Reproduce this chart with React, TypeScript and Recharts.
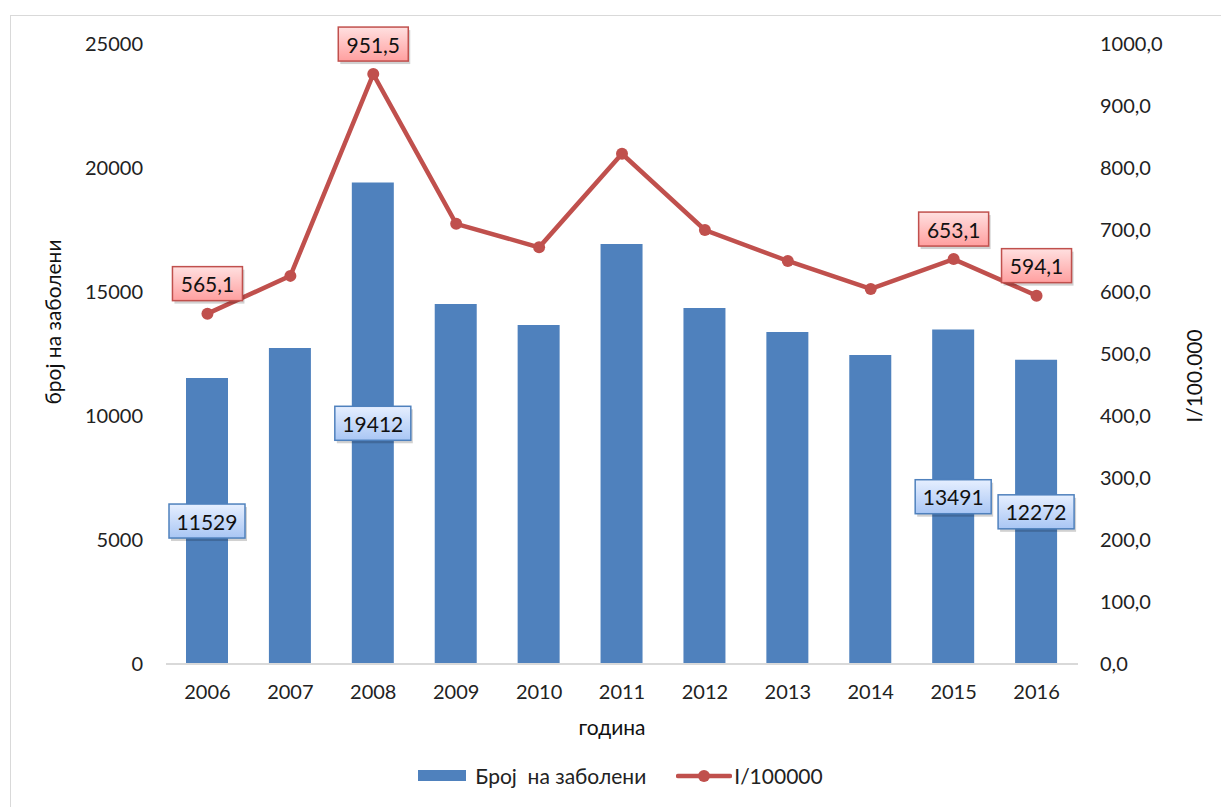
import React from "react";
import {
  ComposedChart,
  Bar,
  Line,
  XAxis,
  YAxis,
  LabelList,
} from "recharts";

const years = ["2006", "2007", "2008", "2009", "2010", "2011", "2012", "2013", "2014", "2015", "2016"];
const cases = [11529, 12742, 19412, 14516, 13669, 16935, 14355, 13387, 12460, 13491, 12272];
const rate = [565.1, 626.0, 951.5, 710.0, 672.0, 823.0, 700.0, 650.0, 605.0, 653.1, 594.1];
const labeledYears = ["2006", "2008", "2015", "2016"];
const leftTicks = [0, 5000, 10000, 15000, 20000, 25000];
const rightTicks = [0, 100, 200, 300, 400, 500, 600, 700, 800, 900, 1000];

const data = years.map((y, i) => ({ year: y, cases: cases[i], rate: rate[i] }));

const FONT = "Lato, 'Noto Sans', sans-serif";
const BLUE = "#4f81bd";
const RED = "#c0504d";

const fmtRate = (v: number) => v.toFixed(1).replace(".", ",");

function Box(props: any) {
  const { x, y, width, height, value, index, kind } = props;
  if (!labeledYears.includes(years[index])) return null;
  const text = kind === "bar" ? String(value) : fmtRate(Number(value));
  const cx = kind === "bar" ? x + width / 2 : x;
  const cy = kind === "bar" ? y + height / 2 : y - 30;
  const w = kind === "bar" ? 76 : 70;
  const h = 34;
  const grad = kind === "bar" ? "url(#gBlue)" : "url(#gRed)";
  const stroke = kind === "bar" ? BLUE : RED;
  return (
    <g>
      <rect x={cx - w / 2 + 2} y={cy - h / 2 + 3} width={w} height={h} fill="rgba(0,0,0,0.18)" />
      <rect x={cx - w / 2} y={cy - h / 2} width={w} height={h} fill={grad} stroke={stroke} strokeWidth={1.5} />
      <text
        x={cx}
        y={cy}
        textAnchor="middle"
        dominantBaseline="central"
        fontFamily={FONT}
        fontSize={21}
        fill="#111"
      >
        {text}
      </text>
    </g>
  );
}

function Legend() {
  return (
    <div
      style={{
        position: "absolute",
        top: 755,
        left: 0,
        width: 1221,
        display: "flex",
        justifyContent: "center",
        alignItems: "center",
        fontFamily: FONT,
        fontSize: 21,
        color: "#222",
        paddingLeft: 4,
        boxSizing: "border-box",
      }}
    >
      <span style={{ display: "inline-block", width: 48, height: 11, background: BLUE, marginRight: 9 }} />
      <span style={{ marginRight: 30 }}>Број&nbsp; на заболени</span>
      <svg width={56} height={14} style={{ marginRight: 2 }}>
        <line x1={2} y1={7} x2={54} y2={7} stroke={RED} strokeWidth={4.5} strokeLinecap="round" />
        <circle cx={28} cy={7} r={6} fill={RED} />
      </svg>
      <span>I/100000</span>
    </div>
  );
}

export default function App() {
  return (
    <div style={{ position: "relative", width: 1221, height: 799 }}>
      <div
        style={{
          position: "absolute",
          left: 2,
          top: 7,
          width: 1230,
          height: 800,
          border: "1.5px solid #d9d9d9",
          boxSizing: "border-box",
        }}
      />
      <ComposedChart
        width={1221}
        height={799}
        data={data}
        margin={{ top: 36, right: 0, bottom: 0, left: 0 }}
        style={{ position: "absolute", left: 0, top: 0 }}
      >
        <defs>
          <linearGradient id="gBlue" x1="0" y1="0" x2="0" y2="1">
            <stop offset="0%" stopColor="#e6efff" />
            <stop offset="100%" stopColor="#a9c6f4" />
          </linearGradient>
          <linearGradient id="gRed" x1="0" y1="0" x2="0" y2="1">
            <stop offset="0%" stopColor="#ffe0e0" />
            <stop offset="100%" stopColor="#ff9f9f" />
          </linearGradient>
        </defs>
        <XAxis
          dataKey="year"
          height={143}
          tickLine={false}
          axisLine={{ stroke: "#d9d9d9", strokeWidth: 2 }}
          tick={{ fill: "#222", fontSize: 20, fontFamily: FONT }}
          tickMargin={15}
        />
        <YAxis
          yAxisId="left"
          width={158}
          domain={[0, 25000]}
          ticks={leftTicks}
          axisLine={false}
          tickLine={false}
          tickMargin={17}
          tick={{ fill: "#222", fontSize: 20, fontFamily: FONT }}
        />
        <YAxis
          yAxisId="right"
          orientation="right"
          width={151}
          domain={[0, 1000]}
          ticks={rightTicks}
          tickFormatter={fmtRate}
          axisLine={false}
          tickLine={false}
          tickMargin={16}
          tick={{ fill: "#222", fontSize: 20, fontFamily: FONT, textAnchor: "start" }}
        />
        <Bar yAxisId="left" dataKey="cases" fill={BLUE} barSize={42} isAnimationActive={false}>
          <LabelList dataKey="cases" content={(p: any) => <Box {...p} kind="bar" />} />
        </Bar>
        <Line
          yAxisId="right"
          dataKey="rate"
          stroke={RED}
          strokeWidth={4.5}
          dot={{ r: 6, fill: RED, stroke: RED, strokeWidth: 0 }}
          activeDot={false}
          isAnimationActive={false}
        >
          <LabelList dataKey="rate" content={(p: any) => <Box {...p} kind="line" />} />
        </Line>
      </ComposedChart>
      <div
        style={{
          position: "absolute",
          left: 44,
          top: 314,
          transform: "translate(-50%, -50%) rotate(-90deg)",
          fontFamily: FONT,
          fontSize: 21,
          color: "#111",
          whiteSpace: "nowrap",
        }}
      >
        број на заболени
      </div>
      <div
        style={{
          position: "absolute",
          left: 1185,
          top: 368,
          transform: "translate(-50%, -50%) rotate(-90deg)",
          fontFamily: FONT,
          fontSize: 21,
          color: "#111",
          whiteSpace: "nowrap",
        }}
      >
        I/100.000
      </div>
      <div
        style={{
          position: "absolute",
          left: 604,
          top: 718,
          transform: "translate(-50%, -50%)",
          fontFamily: FONT,
          fontSize: 21,
          color: "#111",
        }}
      >
        година
      </div>
      <Legend />
    </div>
  );
}
